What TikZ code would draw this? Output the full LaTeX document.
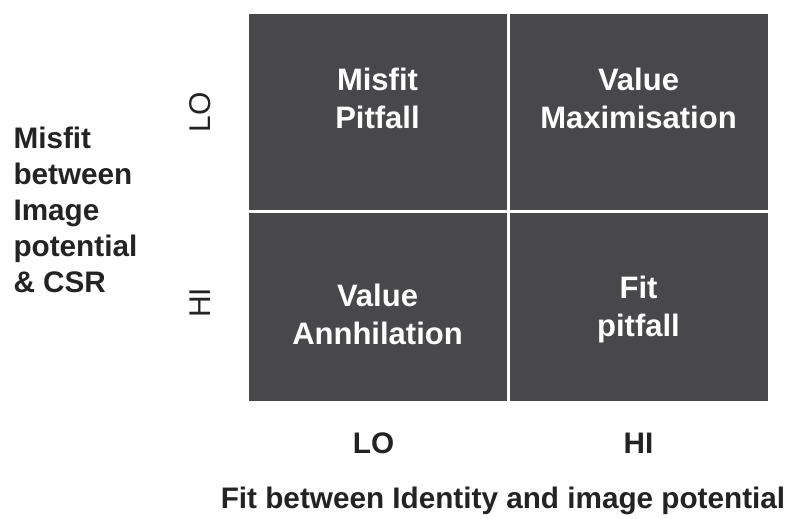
\documentclass[tikz,border=0pt]{standalone}
\usepackage{fontspec}
\setmainfont{Liberation Sans}
\definecolor{cellgrey}{HTML}{48484A}
\definecolor{axistext}{HTML}{232323}

\begin{document}
\begin{tikzpicture}[x=1pt,y=-1pt,
  squares/.style={fill=cellgrey, draw=white, line width=1.5pt, minimum width=259.5pt, inner sep=0pt},
  celltext/.style={align=center, text=white, font=\fontsize{31}{38}\selectfont\bfseries},
  axis/.style={text=axistext, font=\fontsize{30}{36}\selectfont},
  axisbold/.style={text=axistext, font=\fontsize{29.7}{36}\selectfont\bfseries}]

    \useasboundingbox (0,0) rectangle (790,519);

    \node[squares,minimum height=197pt,anchor=north west] (A) at (247,13) {};
    \node[squares,minimum height=197pt,anchor=west] (B) at (A.east) {};
    \node[squares,minimum height=189pt,anchor=north] (C) at (A.south) {};
    \node[squares,minimum height=189pt,anchor=north] (D) at (B.south) {};

    \node[celltext] (misfit) at ([yshift=14pt]A.center) {Misfit\\Pitfall};
    \node[celltext] (valuemax) at ([yshift=14pt]B.center) {Value\\Maximisation};
    \node[celltext] (valueann) at ([yshift=-8pt]C.center) {Value\\Annhilation};
    \node[celltext] (fitpit) at ([yshift=-3pt]D.center) {Fit\\pitfall};

    \node[axis,rotate=90] (ylo) at ([xshift=-47pt]A.west) {LO};
    \node[axis,rotate=90] (yhi) at ([xshift=-47pt,yshift=4pt]C.west) {HI};
    \node[axisbold,align=left,anchor=west] (ytitle) at (10,210) {Misfit\\between\\Image\\potential\\\& CSR};

    \node[axisbold] (xlo) at ([xshift=-4pt,yshift=-41pt]C.south) {LO};
    \node[axisbold] (xhi) at ([xshift=0pt,yshift=-41pt]D.south) {HI};
    \node[axisbold] (xtitle) at ([xshift=-5pt,yshift=-99pt]C.south east) {Fit between Identity and image potential};
\end{tikzpicture}
\end{document}
